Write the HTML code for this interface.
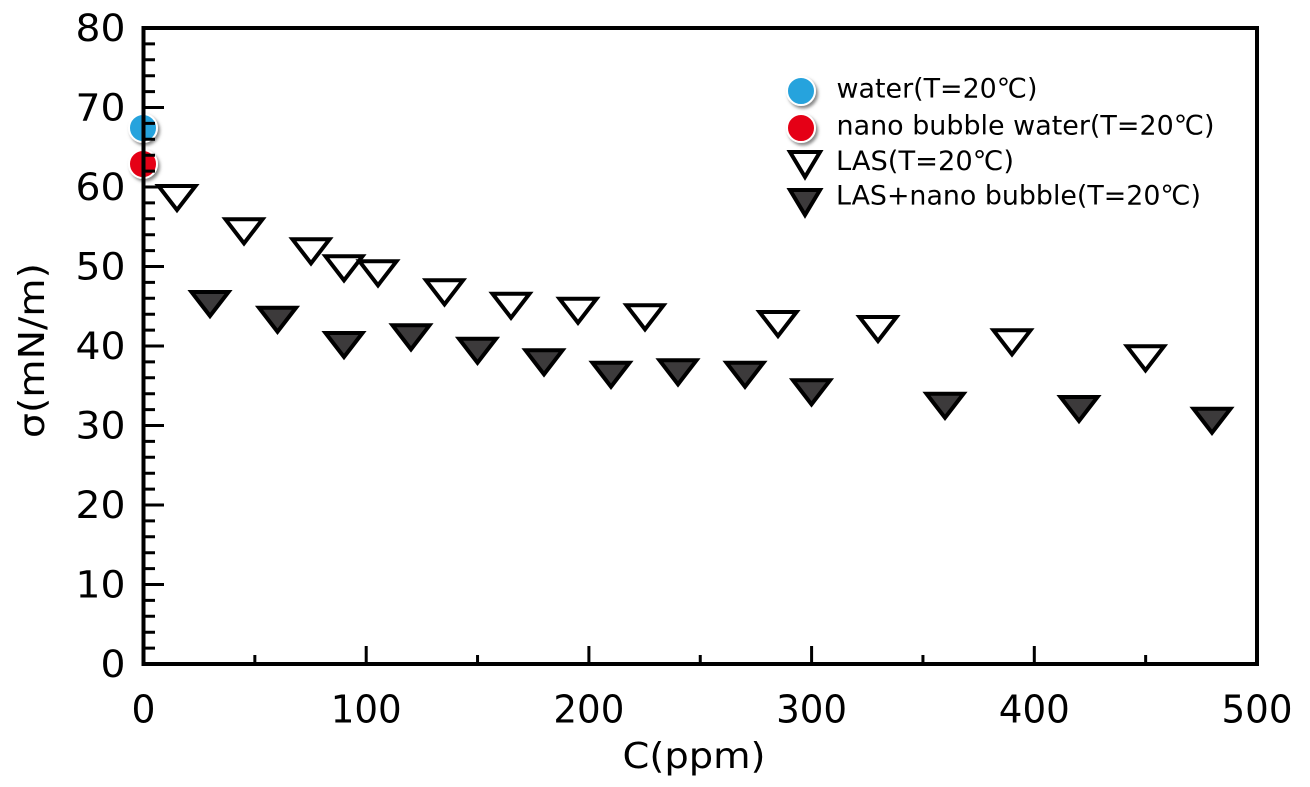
<!DOCTYPE html>
<html>
<head>
<meta charset="utf-8">
<style>
  html, body { margin: 0; padding: 0; background: #ffffff; }
  svg { display: block; }
  text { font-family: "DejaVu Sans", "Liberation Sans", "Noto Sans CJK JP", sans-serif; fill: #000; }
</style>
</head>
<body>
<svg width="1310" height="787" viewBox="0 0 1310 787" xmlns="http://www.w3.org/2000/svg">
  <defs>
    <filter id="sh" x="-50%" y="-50%" width="200%" height="200%">
      <feDropShadow dx="2" dy="2.5" stdDeviation="1.5" flood-color="#555" flood-opacity="0.7"/>
    </filter>
  </defs>
  <rect x="0" y="0" width="1310" height="787" fill="#ffffff"/>

  <!-- data circles (under axes) -->
  <circle cx="143" cy="128" r="14" fill="#27a3dd" stroke="#ffffff" stroke-width="2" filter="url(#sh)"/>
  <circle cx="143" cy="164" r="14" fill="#e50012" stroke="#ffffff" stroke-width="2" filter="url(#sh)"/>

  <!-- axes frame -->
  <rect x="143.5" y="28" width="1113.5" height="636" fill="none" stroke="#000" stroke-width="4"/>

  <!-- y ticks -->
  <path stroke="#000" stroke-width="3" fill="none" d="
    M143.5 648.1H155 M143.5 632.2H155 M143.5 616.3H155 M143.5 600.4H155 M143.5 584.5H164
    M143.5 568.6H155 M143.5 552.7H155 M143.5 536.8H155 M143.5 520.9H155 M143.5 505H164
    M143.5 489.1H155 M143.5 473.2H155 M143.5 457.3H155 M143.5 441.4H155 M143.5 425.5H164
    M143.5 409.6H155 M143.5 393.7H155 M143.5 377.8H155 M143.5 361.9H155 M143.5 346H164
    M143.5 330.1H155 M143.5 314.2H155 M143.5 298.3H155 M143.5 282.4H155 M143.5 266.5H164
    M143.5 250.6H155 M143.5 234.7H155 M143.5 218.8H155 M143.5 202.9H155 M143.5 187H164
    M143.5 171.1H155 M143.5 155.2H155 M143.5 139.3H155 M143.5 123.4H155 M143.5 107.5H164
    M143.5 91.6H155 M143.5 75.7H155 M143.5 59.8H155 M143.5 43.9H155"/>

  <!-- x ticks -->
  <path stroke="#000" stroke-width="3" fill="none" d="
    M254.85 664V655 M366.2 664V646 M477.55 664V655 M588.9 664V646 M700.25 664V655
    M811.6 664V646 M922.95 664V655 M1034.3 664V646 M1145.65 664V655"/>

  <!-- y tick labels -->
  <g font-size="37" text-anchor="end">
    <text x="125.5" y="677" textLength="25" lengthAdjust="spacingAndGlyphs">0</text>
    <text x="125.5" y="597.5" textLength="50" lengthAdjust="spacingAndGlyphs">10</text>
    <text x="125.5" y="518" textLength="50" lengthAdjust="spacingAndGlyphs">20</text>
    <text x="125.5" y="438.5" textLength="50" lengthAdjust="spacingAndGlyphs">30</text>
    <text x="125.5" y="359" textLength="50" lengthAdjust="spacingAndGlyphs">40</text>
    <text x="125.5" y="279.5" textLength="50" lengthAdjust="spacingAndGlyphs">50</text>
    <text x="125.5" y="200" textLength="50" lengthAdjust="spacingAndGlyphs">60</text>
    <text x="125.5" y="120.5" textLength="50" lengthAdjust="spacingAndGlyphs">70</text>
    <text x="125.5" y="41" textLength="50" lengthAdjust="spacingAndGlyphs">80</text>
  </g>

  <!-- x tick labels -->
  <g font-size="38" text-anchor="middle">
    <text x="143.5" y="722.5" textLength="24" lengthAdjust="spacingAndGlyphs">0</text>
    <text x="366.2" y="722.5" textLength="71" lengthAdjust="spacingAndGlyphs">100</text>
    <text x="588.9" y="722.5" textLength="71" lengthAdjust="spacingAndGlyphs">200</text>
    <text x="811.6" y="722.5" textLength="71" lengthAdjust="spacingAndGlyphs">300</text>
    <text x="1034.3" y="722.5" textLength="71" lengthAdjust="spacingAndGlyphs">400</text>
    <text x="1257" y="722.5" textLength="71" lengthAdjust="spacingAndGlyphs">500</text>
  </g>

  <!-- axis titles -->
  <text x="694" y="768" font-size="36" text-anchor="middle" textLength="143" lengthAdjust="spacingAndGlyphs">C(ppm)</text>
  <text transform="translate(44,350.5) rotate(-90)" x="0" y="0" font-size="36" text-anchor="middle" textLength="175" lengthAdjust="spacingAndGlyphs">σ(mN/m)</text>

  <!-- open triangles (LAS) -->
  <g fill="#ffffff" stroke="#000" stroke-width="4" stroke-linejoin="miter">
    <path d="M158.5 186H195.5L177 210Z"/>
    <path d="M225.5 219.3H262.5L244 243.3Z"/>
    <path d="M292.5 239.3H329.5L311 263.3Z"/>
    <path d="M325.5 256.3H362.5L344 280.3Z"/>
    <path d="M359.5 261.3H396.5L378 285.3Z"/>
    <path d="M426 280.3H463L444.5 304.3Z"/>
    <path d="M492.5 293.7H529.5L511 317.7Z"/>
    <path d="M559.5 298.7H596.5L578 322.7Z"/>
    <path d="M626.5 305.3H663.5L645 329.3Z"/>
    <path d="M759.5 312H796.5L778 336Z"/>
    <path d="M859.5 317H896.5L878 341Z"/>
    <path d="M993.5 330.3H1030.5L1012 354.3Z"/>
    <path d="M1127 346.3H1164L1145.5 370.3Z"/>
  </g>

  <!-- filled triangles (LAS + nano bubble) -->
  <g fill="#3c3a3b" stroke="#000" stroke-width="4" stroke-linejoin="miter">
    <path d="M191.5 292H228.5L210 316Z"/>
    <path d="M259 307.7H296L277.5 331.7Z"/>
    <path d="M325.5 333H362.5L344 357Z"/>
    <path d="M392.5 325.3H429.5L411 349.3Z"/>
    <path d="M459 338.7H496L477.5 362.7Z"/>
    <path d="M525.5 350.3H562.5L544 374.3Z"/>
    <path d="M592.5 362.7H629.5L611 386.7Z"/>
    <path d="M659.5 360.3H696.5L678 384.3Z"/>
    <path d="M726.5 362.7H763.5L745 386.7Z"/>
    <path d="M793 380.3H830L811.5 404.3Z"/>
    <path d="M926.5 393.7H963.5L945 417.7Z"/>
    <path d="M1060.5 397H1097.5L1079 421Z"/>
    <path d="M1193.5 408.7H1230.5L1212 432.7Z"/>
  </g>

  <!-- legend -->
  <circle cx="801" cy="91" r="14" fill="#27a3dd" stroke="#ffffff" stroke-width="2" filter="url(#sh)"/>
  <circle cx="801" cy="128" r="14" fill="#e50012" stroke="#ffffff" stroke-width="2" filter="url(#sh)"/>
  <path d="M790 152H820L805 177Z" fill="#ffffff" stroke="#000" stroke-width="4"/>
  <path d="M790 190H820L805 215Z" fill="#3c3a3b" stroke="#000" stroke-width="4"/>

  <g font-size="27">
    <text x="836.5" y="97.5" textLength="201" lengthAdjust="spacingAndGlyphs">water(T=20℃)</text>
    <text x="836.5" y="134.5" textLength="378" lengthAdjust="spacingAndGlyphs">nano bubble water(T=20℃)</text>
    <text x="836" y="170" textLength="178" lengthAdjust="spacingAndGlyphs">LAS(T=20℃)</text>
    <text x="836" y="204.5" textLength="365" lengthAdjust="spacingAndGlyphs">LAS+nano bubble(T=20℃)</text>
  </g>
</svg>
</body>
</html>
